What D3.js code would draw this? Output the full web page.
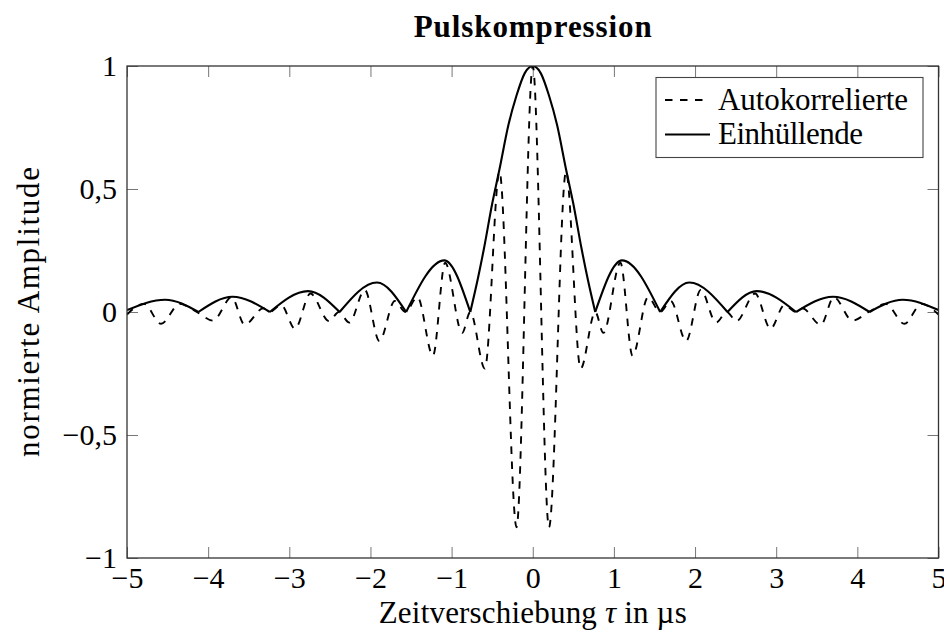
<!DOCTYPE html>
<html lang="de">
<head>
<meta charset="UTF-8">
<title>Pulskompression</title>
<script src="https://d3js.org/d3.v7.min.js"></script>
<style>
  body { margin: 0; background: #fff; }
  svg { display: block; font-family: "Liberation Serif", "Times New Roman", serif; }
  .tick text { font-size: 30px; fill: #000; }
  .tick line { stroke: #777; stroke-width: 1; }
</style>
</head>
<body>
<script>
// tick values / labels
const xTicks = [-5, -4, -3, -2, -1, 0, 1, 2, 3, 4, 5];
const xTickLabels = ["−5", "−4", "−3", "−2", "−1", "0", "1", "2", "3", "4", "5"];
const yTicks = [-1, -0.5, 0, 0.5, 1];
const yTickLabels = ["−1", "−0,5", "0", "0,5", "1"];

// Einhüllende (zeros split the lobes)
const envTau = [-5, -4.53, -4.12, -3.70, -3.24, -2.77, -2.38, -1.92, -1.56, -1.09, -0.77,
  -0.68, -0.6, -0.5, -0.41, -0.3, -0.2, -0.1, 0, 0.1, 0.2, 0.3, 0.41, 0.5, 0.6, 0.68,
  0.77, 1.10, 1.57, 1.93, 2.40, 2.76, 3.245, 3.70, 4.15, 4.56, 5];
const envAmp = [0.008, 0.05, 0, 0.062, 0, 0.085, 0, 0.12, 0, 0.21, 0,
  0.13, 0.26, 0.44, 0.58, 0.76, 0.88, 0.97, 1, 0.97, 0.88, 0.76, 0.58, 0.44, 0.26, 0.13,
  0, 0.21, 0, 0.12, 0, 0.085, 0, 0.062, 0, 0.05, 0.008];

// Autokorrelierte (extrema and touch points)
const acfTau = [-5, -4.79, -4.58, -4.35, -4.14, -3.94, -3.71, -3.55, -3.32, -3.245, -3.10,
  -2.93, -2.74, -2.51, -2.39, -2.26, -2.07, -1.89, -1.70, -1.57, -1.42, -1.23, -1.08,
  -0.87, -0.77, -0.59, -0.41, -0.2, 0, 0.2, 0.41, 0.59, 0.77, 0.87, 1.08, 1.23, 1.42,
  1.57, 1.70, 1.89, 2.07, 2.26, 2.39, 2.51, 2.74, 2.93, 3.10, 3.245, 3.32, 3.55, 3.71,
  3.94, 4.14, 4.35, 4.58, 4.79, 5];
const acfAmp = [-0.01, 0.033, -0.048, 0.033, 0, -0.035, 0.06, -0.052, 0.015, 0, 0.028,
  -0.068, 0.075, -0.037, 0, -0.043, 0.09, -0.118, 0.045, 0, 0.06, -0.178, 0.2,
  -0.085, 0, -0.23, 0.57, -0.875, 1, -0.875, 0.57, -0.23, 0, -0.085, 0.2, -0.178, 0.06,
  0, 0.045, -0.118, 0.09, -0.043, 0, -0.037, 0.075, -0.068, 0.028, 0, 0.015, -0.052, 0.06,
  -0.035, 0, 0.033, -0.048, 0.033, -0.01];

const width = 944, height = 633;
const plot = { left: 127, right: 938.5, top: 66, bottom: 558 };

const svg = d3.select("body").append("svg")
  .attr("width", width)
  .attr("height", height);

const x = d3.scaleLinear().domain([-5, 5]).range([plot.left, plot.right]);
const y = d3.scaleLinear().domain([-1, 1]).range([plot.bottom, plot.top]);

const xLab = new Map(xTicks.map((d, i) => [d, xTickLabels[i]]));
const yLab = new Map(yTicks.map((d, i) => [d, yTickLabels[i]]));

svg.append("defs").append("clipPath").attr("id", "clip")
  .append("rect")
  .attr("x", plot.left).attr("y", plot.top)
  .attr("width", plot.right - plot.left).attr("height", plot.bottom - plot.top);

// drop d3's default sans-serif / 10px on the axis groups
const plain = g => g.attr("font-family", null).attr("font-size", null).select(".domain").remove();

// axes, ticks pointing inward
svg.append("g")
  .attr("transform", `translate(0,${plot.bottom})`)
  .call(d3.axisBottom(x).tickValues(xTicks).tickFormat(d => xLab.get(d)).tickSize(-11).tickPadding(9))
  .call(plain);
svg.append("g")
  .attr("transform", `translate(0,${plot.top})`)
  .call(d3.axisTop(x).tickValues(xTicks).tickFormat("").tickSize(-11))
  .call(plain);
svg.append("g")
  .attr("transform", `translate(${plot.left},0)`)
  .call(d3.axisLeft(y).tickValues(yTicks).tickFormat(d => yLab.get(d)).tickSize(-11).tickPadding(10))
  .call(plain);
svg.append("g")
  .attr("transform", `translate(${plot.right},0)`)
  .call(d3.axisRight(y).tickValues(yTicks).tickFormat("").tickSize(-11))
  .call(plain);

// curves
const curves = svg.append("g").attr("clip-path", "url(#clip)");

const line = d3.line()
  .x(d => x(d[0]))
  .y(d => y(d[1]))
  .curve(d3.curveMonotoneX);

const acf = acfTau.map((t, i) => [t, acfAmp[i]]);
curves.append("path")
  .attr("d", line(acf))
  .attr("fill", "none")
  .attr("stroke", "#000")
  .attr("stroke-width", 1.9)
  .attr("stroke-dasharray", "7.5,7.5");

// envelope lobes split at the zeros so the cusps stay sharp
const lobes = [];
let cur = [];
envTau.forEach((t, i) => {
  cur.push([t, envAmp[i]]);
  if (envAmp[i] === 0 && cur.length > 1) {
    lobes.push(cur);
    cur = [[t, 0]];
  }
});
if (cur.length > 1) lobes.push(cur);

curves.selectAll(".lobe")
  .data(lobes)
  .enter()
  .append("path")
  .attr("class", "lobe")
  .attr("d", line)
  .attr("fill", "none")
  .attr("stroke", "#000")
  .attr("stroke-width", 2.1)
  .attr("stroke-linejoin", "round");

// frame
svg.append("rect")
  .attr("x", plot.left).attr("y", plot.top)
  .attr("width", plot.right - plot.left).attr("height", plot.bottom - plot.top)
  .attr("fill", "none")
  .attr("stroke", "#333")
  .attr("stroke-width", 1.3);

// legend
const lg = svg.append("g");
lg.append("rect")
  .attr("x", 656).attr("y", 77.5).attr("width", 267).attr("height", 80)
  .attr("fill", "#fff").attr("stroke", "#444").attr("stroke-width", 1.1);
const entries = [
  { label: "Autokorrelierte", dash: "7.5,7.5", w: 1.9, cy: 100, len: 190 },
  { label: "Einhüllende", dash: null, w: 2.1, cy: 134.5, len: 145 }
];
entries.forEach(e => {
  lg.append("line")
    .attr("x1", 665).attr("x2", 710).attr("y1", e.cy).attr("y2", e.cy)
    .attr("stroke", "#000").attr("stroke-width", e.w)
    .attr("stroke-dasharray", e.dash);
  lg.append("text")
    .attr("x", 718).attr("y", e.cy + 9.5)
    .attr("font-size", 31)
    .attr("textLength", e.len)
    .text(e.label);
});

// titles
svg.append("text")
  .attr("x", (plot.left + plot.right) / 2).attr("y", 37)
  .attr("text-anchor", "middle")
  .attr("font-size", 31)
  .attr("font-weight", "bold")
  .attr("textLength", 238)
  .text("Pulskompression");

const xl = svg.append("text")
  .attr("x", (plot.left + plot.right) / 2).attr("y", 623)
  .attr("text-anchor", "middle")
  .attr("font-size", 31)
  .attr("textLength", 308);
xl.append("tspan").text("Zeitverschiebung ");
xl.append("tspan").attr("font-style", "italic").text("τ");
xl.append("tspan").text(" in µs");

svg.append("text")
  .attr("transform", `translate(39,${(plot.top + plot.bottom) / 2}) rotate(-90)`)
  .attr("text-anchor", "middle")
  .attr("font-size", 31)
  .attr("textLength", 290)
  .text("normierte Amplitude");
</script>
</body>
</html>
